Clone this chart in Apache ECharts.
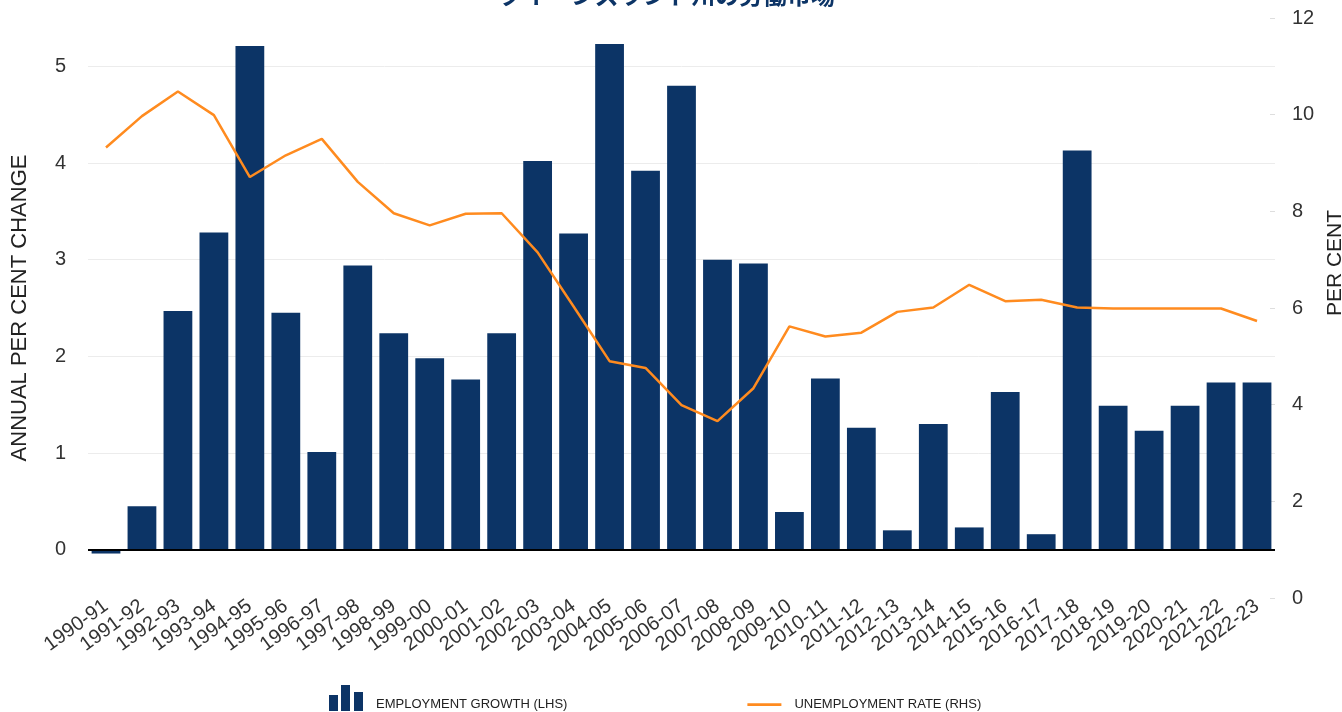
<!DOCTYPE html>
<html>
<head>
<meta charset="utf-8">
<script src="https://cdn.jsdelivr.net/npm/echarts@6/dist/echarts.min.js"></script>
<style>
  html, body { margin: 0; padding: 0; background: #fff; }
  #main { width: 1342px; height: 712px; }
</style>
</head>
<body>
<div id="main"></div>
<script>
var categories = ["1990-91", "1991-92", "1992-93", "1993-94", "1994-95", "1995-96", "1996-97",
  "1997-98", "1998-99", "1999-00", "2000-01", "2001-02", "2002-03", "2003-04", "2004-05",
  "2005-06", "2006-07", "2007-08", "2008-09", "2009-10", "2010-11", "2011-12", "2012-13",
  "2013-14", "2014-15", "2015-16", "2016-17", "2017-18", "2018-19", "2019-20", "2020-21",
  "2021-22", "2022-23"];

// annual per cent change (LHS)
var employmentGrowth = [-0.04, 0.45, 2.47, 3.28, 5.21, 2.45, 1.01, 2.94, 2.24, 1.98, 1.76,
  2.24, 4.02, 3.27, 5.23, 3.92, 4.80, 3.00, 2.96, 0.39, 1.77, 1.26, 0.20, 1.30, 0.23,
  1.63, 0.16, 4.13, 1.49, 1.23, 1.49, 1.73, 1.73];

// per cent (RHS)
var unemploymentRate = [9.32, 9.97, 10.48, 9.99, 8.71, 9.16, 9.50, 8.61, 7.96, 7.71, 7.95,
  7.96, 7.15, 6.03, 4.90, 4.76, 3.99, 3.66, 4.34, 5.62, 5.41, 5.49, 5.92, 6.01, 6.48,
  6.14, 6.17, 6.01, 5.99, 5.99, 5.99, 5.99, 5.73];

var leftTicks = [0, 1, 2, 3, 4, 5];

var navy = "#0c3466";
var orange = "#ff8b1f";

var chartDom = document.getElementById("main");
var myChart = echarts.init(chartDom, null, { renderer: "canvas" });
var option;

option = {
  animation: false,
  textStyle: { fontFamily: "Liberation Sans, Arial, sans-serif" },
  title: {
    text: "クイーンズランド州の労働市場",
    left: 494,
    top: -22,
    textStyle: {
      fontFamily: "Noto Sans CJK JP",
      fontSize: 24,
      fontWeight: "bold",
      color: navy,
    },
  },
  legend: {
    left: 324,
    top: 680,
    itemWidth: 34,
    itemHeight: 26,
    itemGap: 180,
    formatter: function (name) {
      return "{t|" + name + "}";
    },
    textStyle: {
      fontSize: 13,
      color: "#222",
      rich: {
        t: { fontSize: 13, color: "#222", padding: [12, 0, 0, 8] },
      },
    },
    data: [
      {
        name: "EMPLOYMENT GROWTH (LHS)",
        icon: "path://M0,10h9v16h-9z M12,0h9v26h-9z M25,7h9v19h-9z",
      },
      {
        // line sits low in the icon box, like the text baseline
        name: "UNEMPLOYMENT RATE (RHS)",
        icon: "path://M0,0h0.05v0.05h-0.05z M0,15h38v3h-38z",
      },
    ],
  },
  grid: {
    left: 88,
    right: 67,
    top: 18,
    bottom: 114,
    outerBoundsMode: "none",
    containLabel: false,
  },
  xAxis: {
    type: "category",
    data: categories,
    axisLine: { show: false },
    axisTick: { show: false },
    axisLabel: {
      interval: 0,
      rotate: 36,
      margin: 6,
      fontSize: 20,
      color: "#333",
    },
  },
  yAxis: [
    {
      type: "value",
      min: -0.5,
      max: 5.5,
      name: "ANNUAL PER CENT CHANGE",
      nameLocation: "middle",
      nameGap: 57,
      nameTextStyle: {
        fontSize: 22,
        color: "#222",
      },
      axisLine: { show: false },
      axisTick: { show: false, customValues: leftTicks },
      axisLabel: {
        customValues: leftTicks,
        fontSize: 20,
        color: "#333",
        margin: 22,
      },
      splitLine: { lineStyle: { color: "#ececec", width: 1 } },
    },
    {
      type: "value",
      min: 0,
      max: 12,
      interval: 2,
      name: "PER CENT",
      nameLocation: "middle",
      nameGap: 47,
      nameTextStyle: {
        fontSize: 21,
        color: "#222",
        padding: [0, 0, 0, 90],
      },
      axisLine: { show: false },
      axisTick: { show: true, inside: true, length: 5, lineStyle: { color: "#dedede" } },
      axisLabel: { fontSize: 20, color: "#333", margin: 17 },
      splitLine: { show: false },
    },
  ],
  series: [
    {
      name: "EMPLOYMENT GROWTH (LHS)",
      type: "bar",
      yAxisIndex: 0,
      data: employmentGrowth,
      barCategoryGap: "20%",
      itemStyle: { color: navy },
      markLine: {
        silent: true,
        symbol: ["none", "none"],
        label: { show: false },
        lineStyle: { color: "#000", width: 2, type: "solid" },
        data: [{ yAxis: 0 }],
      },
    },
    {
      name: "UNEMPLOYMENT RATE (RHS)",
      type: "line",
      yAxisIndex: 1,
      data: unemploymentRate,
      symbol: "none",
      showSymbol: false,
      lineStyle: { color: orange, width: 2.5 },
      itemStyle: { color: orange },
      z: 5,
    },
  ],
};

option && myChart.setOption(option);
</script>
</body>
</html>
